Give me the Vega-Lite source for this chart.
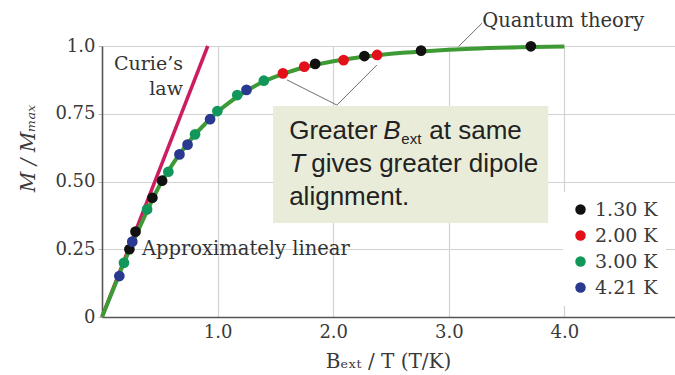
{
  "$schema": "https://vega.github.io/schema/vega-lite/v6.json",
  "width": 578,
  "height": 271,
  "autosize": "none",
  "padding": {"left": 102, "top": 46, "right": 0, "bottom": 58},
  "background": "white",
  "config": {"view": {"stroke": null}},
  "datasets": {
    "box": [{"x": 1.48, "x2": 3.86, "y": 0.779, "y2": 0.347}],
    "curie": [{"x": 0, "y": 0}, {"x": 0.915, "y": 1.0}],
    "curve": [
      {"x": 0, "y": 0}, {"x": 0.1, "y": 0.105}, {"x": 0.2, "y": 0.21}, {"x": 0.3, "y": 0.307},
      {"x": 0.4, "y": 0.4}, {"x": 0.5, "y": 0.487}, {"x": 0.6, "y": 0.557}, {"x": 0.7, "y": 0.617},
      {"x": 0.8, "y": 0.671}, {"x": 0.9, "y": 0.716}, {"x": 1.0, "y": 0.757}, {"x": 1.1, "y": 0.791},
      {"x": 1.2, "y": 0.821}, {"x": 1.3, "y": 0.847}, {"x": 1.4, "y": 0.869}, {"x": 1.6, "y": 0.902},
      {"x": 1.8, "y": 0.926}, {"x": 2.0, "y": 0.944}, {"x": 2.2, "y": 0.957}, {"x": 2.4, "y": 0.967},
      {"x": 2.6, "y": 0.975}, {"x": 2.8, "y": 0.981}, {"x": 3.2, "y": 0.99}, {"x": 3.6, "y": 0.995},
      {"x": 4.0, "y": 0.998}
    ],
    "points": [
      {"x": 0.237, "y": 0.25, "T": "1.30 K"},
      {"x": 0.29, "y": 0.315, "T": "1.30 K"},
      {"x": 0.436, "y": 0.44, "T": "1.30 K"},
      {"x": 0.52, "y": 0.503, "T": "1.30 K"},
      {"x": 1.844, "y": 0.934, "T": "1.30 K"},
      {"x": 2.27, "y": 0.963, "T": "1.30 K"},
      {"x": 2.76, "y": 0.983, "T": "1.30 K"},
      {"x": 3.71, "y": 0.999, "T": "1.30 K"},
      {"x": 1.565, "y": 0.899, "T": "2.00 K"},
      {"x": 1.75, "y": 0.924, "T": "2.00 K"},
      {"x": 2.09, "y": 0.948, "T": "2.00 K"},
      {"x": 2.38, "y": 0.967, "T": "2.00 K"},
      {"x": 0.19, "y": 0.2, "T": "3.00 K"},
      {"x": 0.39, "y": 0.397, "T": "3.00 K"},
      {"x": 0.574, "y": 0.536, "T": "3.00 K"},
      {"x": 0.805, "y": 0.674, "T": "3.00 K"},
      {"x": 0.998, "y": 0.76, "T": "3.00 K"},
      {"x": 1.17, "y": 0.819, "T": "3.00 K"},
      {"x": 1.4, "y": 0.872, "T": "3.00 K"},
      {"x": 0.15, "y": 0.151, "T": "4.21 K"},
      {"x": 0.262, "y": 0.278, "T": "4.21 K"},
      {"x": 0.67, "y": 0.6, "T": "4.21 K"},
      {"x": 0.74, "y": 0.636, "T": "4.21 K"},
      {"x": 0.935, "y": 0.73, "T": "4.21 K"},
      {"x": 1.25, "y": 0.838, "T": "4.21 K"}
    ],
    "leaders": [
      {"x": 2.032, "y": 0.782, "x2": 1.6, "y2": 0.875},
      {"x": 2.032, "y": 0.782, "x2": 2.378, "y2": 0.93},
      {"x": 3.287, "y": 1.084, "x2": 3.084, "y2": 0.998}
    ],
    "rightLabels": [
      {"x": 0.70, "y": 0.911, "label": ["Curie’s", "law"]}
    ],
    "leftLabels": [
      {"x": 0.346, "y": 0.229, "label": "Approximately linear"},
      {"x": 3.29, "y": 1.07, "label": "Quantum theory"}
    ],
    "boxPlain": [
      {"x": 1.619, "y": 0.657, "label": "Greater"},
      {"x": 2.831, "y": 0.657, "label": "at same"},
      {"x": 1.81, "y": 0.535, "label": "gives greater dipole"},
      {"x": 1.619, "y": 0.413, "label": "alignment."}
    ],
    "boxItalic": [
      {"x": 2.433, "y": 0.657, "label": "B"},
      {"x": 1.619, "y": 0.535, "label": "T"}
    ],
    "boxSub": [
      {"x": 2.589, "y": 0.638, "label": "ext"}
    ]
  },
  "layer": [
    {
      "data": {"name": "box"},
      "mark": {"type": "rect", "fill": "#e9ecd9", "stroke": null},
      "encoding": {
        "x": {
          "field": "x", "type": "quantitative",
          "scale": {"domain": [0, 5], "nice": false, "zero": false},
          "axis": {
            "values": [1, 2, 3, 4], "format": ".1f",
            "title": "Bₑₓₜ / T (T/K)",
            "grid": true, "gridColor": "#d2d2d2", "gridWidth": 1.2,
            "domainColor": "#555555", "domainWidth": 1.6,
            "ticks": false,
            "labelFont": "DejaVu Serif", "labelFontSize": 18, "labelColor": "#3a3a3a", "labelPadding": 6,
            "titleFont": "DejaVu Serif", "titleFontSize": 20, "titleFontWeight": "normal", "titleColor": "#3a3a3a",
            "titleX": 286, "titleY": 44, "titleAlign": "center", "titleBaseline": "middle"
          }
        },
        "x2": {"field": "x2"},
        "y": {
          "field": "y", "type": "quantitative",
          "scale": {"domain": [0, 1], "nice": false, "zero": false},
          "axis": {
            "values": [0, 0.25, 0.5, 0.75, 1],
            "labelExpr": "datum.value == 0 ? '0' : (datum.value == 1 ? '1.0' : format(datum.value, '.2f'))",
            "title": "M / Mₘₐₓ",
            "grid": true, "gridColor": "#d2d2d2", "gridWidth": 1.2,
            "domainColor": "#555555", "domainWidth": 1.6,
            "ticks": true, "tickSize": 4, "tickColor": "#bbbbbb",
            "labelFont": "DejaVu Serif", "labelFontSize": 18, "labelColor": "#3a3a3a", "labelPadding": 3,
            "titleFont": "DejaVu Serif", "titleFontSize": 20, "titleFontWeight": "normal", "titleFontStyle": "italic", "titleColor": "#3a3a3a",
            "titleAngle": -90, "titleX": -74, "titleY": 102, "titleAlign": "center", "titleBaseline": "middle"
          }
        },
        "y2": {"field": "y2"}
      }
    },
    {
      "data": {"name": "curie"},
      "mark": {"type": "line", "color": "#cc1d5e", "strokeWidth": 3.5},
      "encoding": {
        "x": {"field": "x", "type": "quantitative"},
        "y": {"field": "y", "type": "quantitative"}
      }
    },
    {
      "data": {"name": "curve"},
      "mark": {"type": "line", "color": "#3d9a35", "strokeWidth": 4, "interpolate": "monotone"},
      "encoding": {
        "x": {"field": "x", "type": "quantitative"},
        "y": {"field": "y", "type": "quantitative"}
      }
    },
    {
      "data": {"name": "leaders"},
      "mark": {"type": "rule", "color": "#6e6e6e", "strokeWidth": 1},
      "encoding": {
        "x": {"field": "x", "type": "quantitative"},
        "y": {"field": "y", "type": "quantitative"},
        "x2": {"field": "x2"},
        "y2": {"field": "y2"}
      }
    },
    {
      "data": {"name": "points"},
      "mark": {"type": "circle", "size": 115, "opacity": 1},
      "encoding": {
        "x": {"field": "x", "type": "quantitative"},
        "y": {"field": "y", "type": "quantitative"},
        "color": {
          "field": "T", "type": "nominal",
          "scale": {"domain": ["1.30 K", "2.00 K", "3.00 K", "4.21 K"], "range": ["#111111", "#e3101c", "#12975a", "#28398f"]},
          "legend": {
            "title": null, "orient": "none", "legendX": 461, "legendY": 146,
            "fillColor": "white", "padding": 8,
            "symbolType": "circle", "symbolSize": 110, "symbolStrokeWidth": 0,
            "labelFont": "DejaVu Serif", "labelFontSize": 19, "labelColor": "#3a3a3a",
            "rowPadding": 6, "labelOffset": 5
          }
        }
      }
    },
    {
      "data": {"name": "rightLabels"},
      "mark": {"type": "text", "font": "DejaVu Serif", "fontSize": 19, "color": "#333333", "baseline": "alphabetic", "align": "right", "lineHeight": 25},
      "encoding": {
        "x": {"field": "x", "type": "quantitative"},
        "y": {"field": "y", "type": "quantitative"},
        "text": {"field": "label"}
      }
    },
    {
      "data": {"name": "leftLabels"},
      "mark": {"type": "text", "font": "DejaVu Serif", "fontSize": 19.5, "color": "#333333", "baseline": "alphabetic", "align": "left"},
      "encoding": {
        "x": {"field": "x", "type": "quantitative"},
        "y": {"field": "y", "type": "quantitative"},
        "text": {"field": "label"}
      }
    },
    {
      "data": {"name": "boxPlain"},
      "mark": {"type": "text", "font": "Liberation Sans", "fontSize": 26, "color": "#222222", "baseline": "alphabetic", "align": "left"},
      "encoding": {
        "x": {"field": "x", "type": "quantitative"},
        "y": {"field": "y", "type": "quantitative"},
        "text": {"field": "label"}
      }
    },
    {
      "data": {"name": "boxItalic"},
      "mark": {"type": "text", "font": "Liberation Sans", "fontSize": 26, "fontStyle": "italic", "color": "#222222", "baseline": "alphabetic", "align": "left"},
      "encoding": {
        "x": {"field": "x", "type": "quantitative"},
        "y": {"field": "y", "type": "quantitative"},
        "text": {"field": "label"}
      }
    },
    {
      "data": {"name": "boxSub"},
      "mark": {"type": "text", "font": "Liberation Sans", "fontSize": 15, "color": "#222222", "baseline": "alphabetic", "align": "left"},
      "encoding": {
        "x": {"field": "x", "type": "quantitative"},
        "y": {"field": "y", "type": "quantitative"},
        "text": {"field": "label"}
      }
    }
  ]
}
